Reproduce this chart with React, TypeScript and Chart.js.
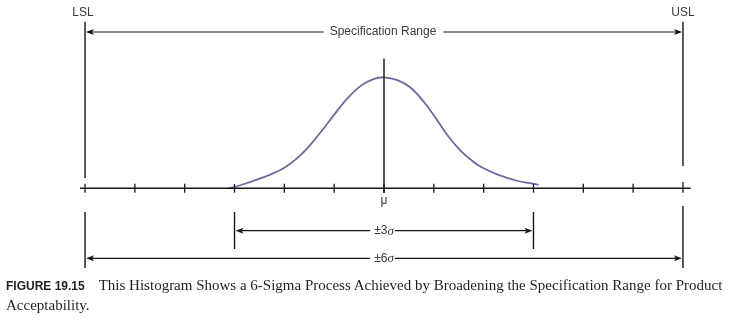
import React, { useEffect, useRef } from "react";
import { Chart, registerables } from "chart.js";
Chart.register(...registerables);

// Process curve (x in sigma units, height relative to peak)
const curveX = [-3.13, -2.98, -2.6, -2.27, -2.0, -1.73, -1.47, -1.2, -0.98, -0.73, -0.46, -0.2, 0, 0.27, 0.53, 0.8, 1.02, 1.27, 1.53, 1.8, 1.96, 2.27, 2.67, 2.98, 3.1];
const curveY = [0, 0.014, 0.07, 0.126, 0.185, 0.276, 0.396, 0.546, 0.675, 0.812, 0.925, 0.985, 1.0, 0.974, 0.908, 0.778, 0.645, 0.48, 0.342, 0.237, 0.19, 0.126, 0.068, 0.042, 0.03];

// Axis
const tickValues = [-6, -5, -4, -3, -2, -1, 0, 1, 2, 3, 4, 5, 6];
const axisRange = [-6.1, 6.155];
const tickHalf = 0.04;

// Spec limits
const specLimits = [-6, 6];
const specLabels = ["LSL", "USL"];
const specLineTop = 1.5;
const specLineBottoms = [0.093, 0.2];
const specLabelY = 1.58;
const specArrowY = 1.408;
const specRangeLabel = "Specification Range";

// Mean
const meanX = 0;
const meanLabel = "μ";
const meanLine = [1.17, -0.042];
const meanLabelY = -0.115;

// Sigma bands
const bandHalfWidths = [3, 6];
const bandPrefixes = ["±3", "±6"];
const bandSymbol = "σ";
const bandArrowY = [-0.382, -0.631];
const bandBarTops = [[-0.214, -0.214], [-0.214, -0.16]];
const bandBarBottoms = [-0.547, -0.718];

const INK = "#161616";
const LABEL = "#3a3a3a";
const SANS = "'Liberation Sans', Arial, sans-serif";

function arrowHead(ctx: CanvasRenderingContext2D, x: number, y: number, dir: number) {
  ctx.beginPath();
  ctx.moveTo(x, y);
  ctx.lineTo(x - dir * 8, y - 3);
  ctx.lineTo(x - dir * 6, y);
  ctx.lineTo(x - dir * 8, y + 3);
  ctx.closePath();
  ctx.fill();
}

function hLine(ctx: CanvasRenderingContext2D, x1: number, x2: number, y: number, w: number) {
  ctx.lineWidth = w;
  ctx.beginPath();
  ctx.moveTo(x1, y);
  ctx.lineTo(x2, y);
  ctx.stroke();
}

function vLine(ctx: CanvasRenderingContext2D, x: number, y1: number, y2: number, w: number) {
  ctx.lineWidth = w;
  ctx.beginPath();
  ctx.moveTo(x, y1);
  ctx.lineTo(x, y2);
  ctx.stroke();
}

const overlayPlugin = {
  id: "sixSigmaOverlay",
  afterDraw(chart: any) {
    const ctx: CanvasRenderingContext2D = chart.ctx;
    const xs = chart.scales.x;
    const ys = chart.scales.y;
    const px = (v: number) => xs.getPixelForValue(v);
    const py = (v: number) => ys.getPixelForValue(v);
    ctx.save();
    ctx.strokeStyle = INK;
    ctx.fillStyle = INK;

    // axis
    const ay = py(0);
    hLine(ctx, px(axisRange[0]), px(axisRange[1]), ay, 1.5);
    tickValues.forEach((t) => {
      const top = t === specLimits[1] ? 0.057 : tickHalf;
      vLine(ctx, px(t), py(top), py(-tickHalf), 1.3);
    });

    // mean line
    vLine(ctx, px(meanX), py(meanLine[0]), py(meanLine[1]), 1.4);

    // spec limit lines and labels
    ctx.font = `12px ${SANS}`;
    ctx.textAlign = "center";
    ctx.textBaseline = "middle";
    specLimits.forEach((s, i) => {
      vLine(ctx, px(s), py(specLineTop), py(specLineBottoms[i]), 1.4);
      ctx.fillStyle = LABEL;
      ctx.fillText(specLabels[i], px(s) - (i === 0 ? 2 : 0), py(specLabelY));
      ctx.fillStyle = INK;
    });

    // spec range arrow
    const sy = py(specArrowY);
    const sx1 = px(specLimits[0]) + 1;
    const sx2 = px(specLimits[1]) - 1;
    const tw = ctx.measureText(specRangeLabel).width;
    const cx = (px(specLimits[0]) + px(specLimits[1])) / 2;
    hLine(ctx, sx1 + 5, cx - tw / 2 - 7, sy, 1.2);
    hLine(ctx, cx + tw / 2 + 6, sx2 - 5, sy, 1.2);
    arrowHead(ctx, sx1, sy, -1);
    arrowHead(ctx, sx2, sy, 1);
    ctx.fillStyle = LABEL;
    ctx.fillText(specRangeLabel, cx - 1, sy);
    ctx.fillStyle = INK;

    // mean label
    ctx.font = `12px ${SANS}`;
    ctx.fillStyle = LABEL;
    ctx.fillText(meanLabel, px(meanX), py(meanLabelY));
    ctx.fillStyle = INK;

    // sigma bands
    bandHalfWidths.forEach((h, i) => {
      const xl = px(meanX - h);
      const xr = px(meanX + h);
      vLine(ctx, xl, py(bandBarTops[i][0]), py(bandBarBottoms[i]), 1.4);
      vLine(ctx, xr, py(bandBarTops[i][1]), py(bandBarBottoms[i]), 1.4);
      const by = py(bandArrowY[i]);
      ctx.font = `12px ${SANS}`;
      const w1 = ctx.measureText(bandPrefixes[i]).width;
      ctx.font = `italic 13px 'Liberation Serif', serif`;
      const w2 = ctx.measureText(bandSymbol).width;
      const total = w1 + w2;
      const mx = px(meanX);
      const left = mx - total / 2;
      hLine(ctx, xl + 5, left - 4, by, 1.2);
      hLine(ctx, left + total + 1, xr - 5, by, 1.2);
      arrowHead(ctx, xl + 1, by, -1);
      arrowHead(ctx, xr - 1, by, 1);
      ctx.fillStyle = LABEL;
      ctx.textAlign = "left";
      ctx.font = `12px ${SANS}`;
      ctx.fillText(bandPrefixes[i], left, by);
      ctx.font = `italic 13px 'Liberation Serif', serif`;
      ctx.fillText(bandSymbol, left + w1, by + 0.5);
      ctx.textAlign = "center";
      ctx.fillStyle = INK;
    });

    ctx.restore();
  },
};

export default function App() {
  const canvasRef = useRef<HTMLCanvasElement | null>(null);

  useEffect(() => {
    const canvas = canvasRef.current;
    if (!canvas) return;
    const chart = new Chart(canvas, {
      type: "line",
      data: {
        datasets: [
          {
            label: "Process",
            data: curveX.map((x, i) => ({ x, y: curveY[i] })),
            borderColor: "#6f67ad",
            borderWidth: 1.8,
            pointRadius: 0,
            fill: false,
            tension: 0.4,
          },
        ],
      },
      options: {
        responsive: false,
        animation: false,
        events: [],
        layout: { padding: { left: 35.2, right: 3.2, top: 0.7, bottom: 1.5 } },
        plugins: {
          legend: { display: false },
          tooltip: { enabled: false },
          title: { display: false },
        },
        scales: {
          x: { type: "linear", min: -7, max: 7, display: false },
          y: { type: "linear", min: -1.2, max: 1.69, display: false },
        },
      },
      plugins: [overlayPlugin],
    });
    return () => chart.destroy();
  }, []);

  return (
    <div style={{ position: "absolute", left: 0, top: 0, width: 736, height: 323, background: "#fff", overflow: "hidden" }}>
      <canvas ref={canvasRef} width={736} height={323} style={{ position: "absolute", left: 0, top: 0, width: 736, height: 323 }} />
      <div
        style={{
          position: "absolute",
          left: 6,
          top: 276,
          whiteSpace: "nowrap",
          fontFamily: "'Liberation Serif', 'Times New Roman', serif",
          fontSize: 15,
          lineHeight: "19px",
          color: "#231f20",
        }}
      >
        <span style={{ fontFamily: SANS, fontWeight: "bold", fontSize: 12, marginRight: 14 }}>FIGURE 19.15</span>
        This Histogram Shows a 6-Sigma Process Achieved by Broadening the Specification Range for Product
        <br />
        Acceptability.
      </div>
    </div>
  );
}
